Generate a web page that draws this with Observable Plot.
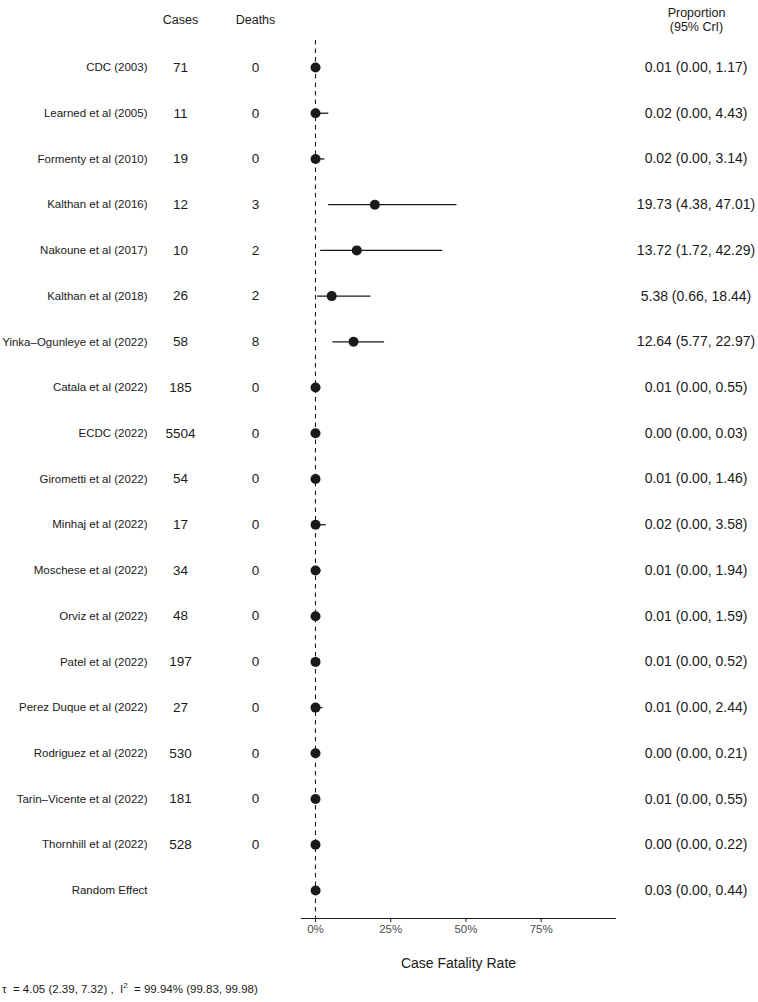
<!DOCTYPE html>
<html>
<head>
<meta charset="utf-8">
<script src="https://cdn.jsdelivr.net/npm/d3@7"></script>
<script src="https://cdn.jsdelivr.net/npm/@observablehq/plot@0.6"></script>
<style>
  body { margin: 0; background: #fff; font-family: "Liberation Sans", Arial, sans-serif; }
  #caption { font-size: 11.5px; color: #1a1a1a; margin: 4px 0 0 2px; line-height: 14px; white-space: pre; }
  #caption sup { font-size: 8px; }
</style>
</head>
<body>
<div id="chart"></div>
<div id="caption">τ  = 4.05 (2.39, 7.32) ,  I<sup>2</sup>  = 99.94% (99.83, 99.98)</div>
<script>
const studies = ["CDC (2003)", "Learned et al (2005)", "Formenty et al (2010)", "Kalthan et al (2016)",
  "Nakoune et al (2017)", "Kalthan et al (2018)", "Yinka–Ogunleye et al (2022)", "Catala et al (2022)",
  "ECDC (2022)", "Girometti et al (2022)", "Minhaj et al (2022)", "Moschese et al (2022)",
  "Orviz et al (2022)", "Patel et al (2022)", "Perez Duque et al (2022)", "Rodriguez et al (2022)",
  "Tarin–Vicente et al (2022)", "Thornhill et al (2022)", "Random Effect"];
const cases  = [71, 11, 19, 12, 10, 26, 58, 185, 5504, 54, 17, 34, 48, 197, 27, 530, 181, 528, null];
const deaths = [0, 0, 0, 3, 2, 2, 8, 0, 0, 0, 0, 0, 0, 0, 0, 0, 0, 0, null];
const est    = [0.01, 0.02, 0.02, 19.73, 13.72, 5.38, 12.64, 0.01, 0.00, 0.01, 0.02, 0.01, 0.01, 0.01, 0.01, 0.00, 0.01, 0.00, 0.03];
const lower  = [0.00, 0.00, 0.00, 4.38, 1.72, 0.66, 5.77, 0.00, 0.00, 0.00, 0.00, 0.00, 0.00, 0.00, 0.00, 0.00, 0.00, 0.00, 0.00];
const upper  = [1.17, 4.43, 3.14, 47.01, 42.29, 18.44, 22.97, 0.55, 0.03, 1.46, 3.58, 1.94, 1.59, 0.52, 2.44, 0.21, 0.55, 0.22, 0.44];
const xTicks = [0, 25, 50, 75];

const rows = studies.map((s, i) => ({
  study: s, cases: cases[i], deaths: deaths[i], est: est[i], lower: lower[i], upper: upper[i],
  label: `${est[i].toFixed(2)} (${lower[i].toFixed(2)}, ${upper[i].toFixed(2)})`
}));
const studyRows = rows.filter(d => d.cases != null);

const ink = "#1a1a1a";
const chart = Plot.plot({
  width: 758,
  height: 975,
  marginLeft: 301,
  marginRight: 143,
  marginTop: 40,
  marginBottom: 57,
  style: { fontFamily: '"Liberation Sans", Arial, sans-serif', color: ink, background: "#fff" },
  x: { domain: [-4.65, 99.7] },
  y: { domain: studies, range: [67, 890], padding: 0, round: false, axis: null },
  marks: [
    Plot.ruleX([0], { stroke: ink, strokeWidth: 1.1, strokeDasharray: "4.5,4" }),
    Plot.frame({ anchor: "bottom", stroke: ink, strokeWidth: 1.1 }),
    Plot.axisX({ ticks: xTicks, tickFormat: d => d + "%", tickSize: 4, tickPadding: 2, fontSize: 11.5, color: "#4d4d4d", stroke: ink, label: null }),
    Plot.text(["Case Fatality Rate"], { frameAnchor: "bottom", lineAnchor: "middle", dy: 45, fontSize: 14, fill: ink }),
    Plot.ruleY(rows, { y: "study", x1: "lower", x2: "upper", stroke: ink, strokeWidth: 1.3 }),
    Plot.dot(rows, { y: "study", x: "est", r: 5, fill: ink, stroke: "none" }),
    Plot.text(rows, { y: "study", text: "study", frameAnchor: "left", dx: -154, textAnchor: "end", fontSize: 11.5, fill: ink }),
    Plot.text(studyRows, { y: "study", text: d => String(d.cases), frameAnchor: "left", textAnchor: "middle", dx: -121, fontSize: 13.5, fill: ink }),
    Plot.text(studyRows, { y: "study", text: d => String(d.deaths), frameAnchor: "left", textAnchor: "middle", dx: -46, fontSize: 13.5, fill: ink }),
    Plot.text(rows, { y: "study", text: "label", frameAnchor: "right", textAnchor: "middle", dx: 80.5, fontSize: 14, fill: ink }),
    Plot.text(["Cases"], { frameAnchor: "top-left", textAnchor: "middle", lineAnchor: "middle", dx: -121, dy: -21, fontSize: 12.5, fill: ink }),
    Plot.text(["Deaths"], { frameAnchor: "top-left", textAnchor: "middle", lineAnchor: "middle", dx: -46, dy: -21, fontSize: 12.5, fill: ink }),
    Plot.text(["Proportion\n(95% CrI)"], { frameAnchor: "top-right", textAnchor: "middle", lineAnchor: "middle", dx: 81, dy: -21, fontSize: 12.5, lineHeight: 1.15, fill: ink })
  ]
});
document.getElementById("chart").appendChild(chart);
</script>
</body>
</html>
